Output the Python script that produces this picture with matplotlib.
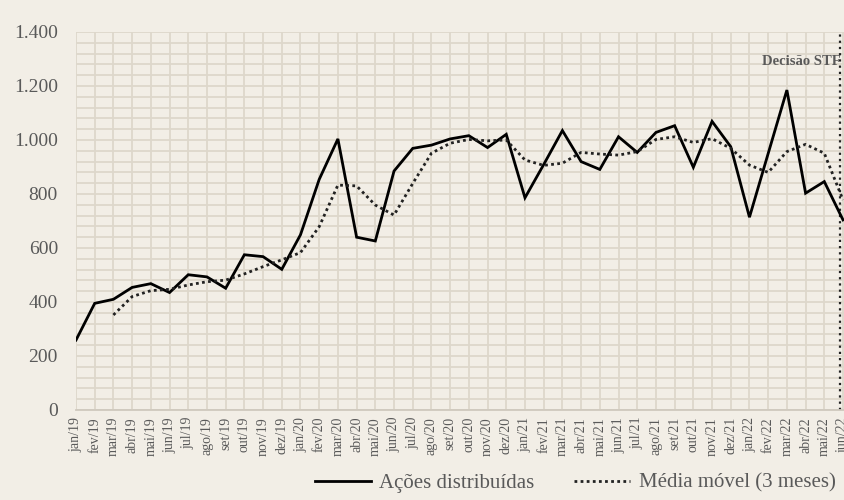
import numpy as np
import matplotlib.pyplot as plt
from matplotlib.ticker import MultipleLocator, FuncFormatter

# monthly labels jan/19 .. jun/22
meses = ['jan', 'fev', 'mar', 'abr', 'mai', 'jun', 'jul', 'ago', 'set', 'out', 'nov', 'dez']
labels = [m + '/' + a for a in ['19', '20', '21'] for m in meses] + \
         [m + '/22' for m in meses[:6]]

acoes = [259, 395, 410, 454, 468, 435, 501, 493, 451, 575, 568, 521,
         649, 854, 1004, 640, 626, 885, 969, 981, 1004, 1016, 972, 1021,
         786, 909, 1035, 920, 891, 1012, 954, 1028, 1053, 899, 1069, 975,
         714, 950, 1185, 803, 846, 704]

# 3-month moving average (starts at mar/19)
media = [None, None, 352, 420, 442, 447, 463, 475, 481, 504, 531, 556,
         583, 679, 833, 830, 759, 722, 839, 951, 988, 1002, 997, 1000,
         926, 906, 914, 954, 948, 944, 957, 1002, 1012, 991, 1005, 969,
         907, 880, 957, 984, 951, 778]

decisao_pos = 40.85
decisao_txt = 'Decisão STF'

bg = '#F2EEE6'
txt = '#595959'
plt.rcParams['font.family'] = ['Liberation Serif', 'DejaVu Serif']

fig = plt.figure(figsize=(8.45, 5.0), dpi=100, facecolor=bg)
W, H = 845, 500
x0, x1, ytop, ybot = 76, 845, 32, 410
ax = fig.add_axes([x0 / W, 1 - ybot / H, (x1 - x0) / W, (ybot - ytop) / H])
ax.set_facecolor(bg)

x = np.arange(len(labels))
m = np.array([np.nan if v is None else v for v in media], dtype=float)

ax.plot(x, acoes, color='black', lw=2.0, solid_joinstyle='miter', zorder=3,
        label='Ações distribuídas')
ax.plot(x, m, color='#222222', lw=2.0, ls=(0, (1, 1.2)), zorder=3,
        label='Média móvel (3 meses)')

ax.axvline(decisao_pos, color='#222222', lw=1.6, ls=(0, (1, 1.8)), zorder=2)
ax.text(decisao_pos - 4.2, 1290, decisao_txt, color=txt, fontsize=10.5,
        fontweight='bold', va='center', ha='left', clip_on=False)

ax.set_xlim(0, 41 * (x1 - x0) / (843 - x0))
ax.set_ylim(0, 1400)
ax.set_xticks(x)
ax.set_xticklabels(labels, rotation=90, fontsize=10, color=txt)
ax.yaxis.set_major_locator(MultipleLocator(200))
ax.yaxis.set_minor_locator(MultipleLocator(40))
ax.yaxis.set_major_formatter(FuncFormatter(lambda v, p: f'{int(v):,}'.replace(',', '.')))
ax.tick_params(axis='y', labelsize=14, colors=txt, length=0, pad=13)
ax.tick_params(axis='x', length=0, pad=5)
ax.tick_params(which='minor', length=0)

ax.grid(True, which='both', axis='y', color='#DDD7CB', lw=1.3, zorder=0)
ax.grid(True, which='major', axis='x', color='#DDD7CB', lw=1.3, zorder=0)
for s in ['left', 'right', 'top']:
    ax.spines[s].set_visible(False)
ax.spines['bottom'].set_color('#CFC9BE')
ax.spines['bottom'].set_linewidth(1.3)

leg = fig.legend(loc='center left', bbox_to_anchor=(296 / W, 17 / H), ncol=2,
                 frameon=False, fontsize=15, handlelength=2.7, columnspacing=1.9,
                 handletextpad=0.4, labelcolor=txt)

fig.savefig('out.png', dpi=100, facecolor=bg)
